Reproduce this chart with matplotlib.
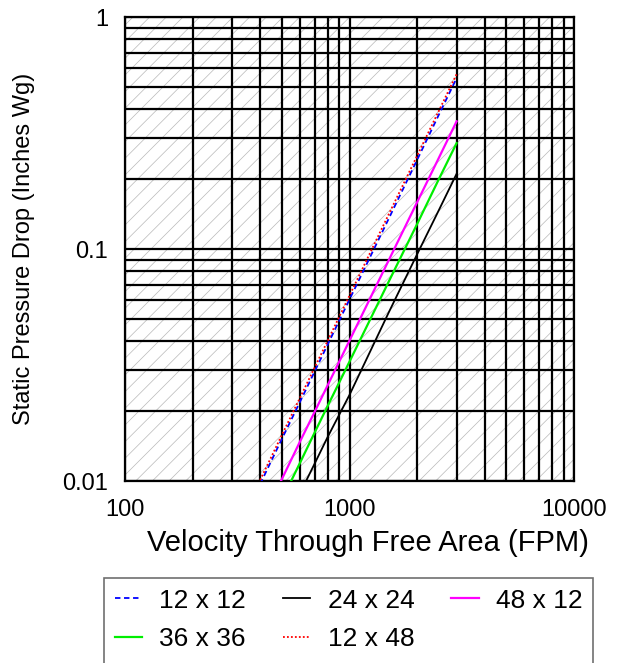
import matplotlib
matplotlib.use("Agg")
import matplotlib.pyplot as plt
from matplotlib.patches import Rectangle

plt.rcParams['font.family'] = ['Liberation Sans', 'DejaVu Sans']
plt.rcParams['hatch.linewidth'] = 0.5

# velocity (FPM) and static pressure drop (in. wg)
vel = [400, 500, 600, 700, 800, 1000, 1500, 2000, 2500, 3000]
p_12x12 = [0.0097, 0.0152, 0.0218, 0.0297, 0.0388, 0.0606, 0.136, 0.242, 0.379, 0.545]
p_12x48 = [0.0101, 0.0158, 0.0227, 0.0309, 0.0403, 0.063, 0.142, 0.252, 0.394, 0.567]
p_48x12 = [0.0066, 0.0102, 0.0147, 0.0199, 0.0259, 0.0403, 0.090, 0.159, 0.247, 0.355]
p_36x36 = [0.0054, 0.0083, 0.0119, 0.0162, 0.0211, 0.0327, 0.0728, 0.128, 0.200, 0.286]
p_24x24 = [0.0039, 0.0061, 0.0088, 0.0119, 0.0155, 0.0235, 0.0536, 0.0948, 0.147, 0.211]

fig = plt.figure(figsize=(6.29, 6.63), dpi=100)
ax = fig.add_axes([125 / 629, 1 - 481 / 663, 449 / 629, 464 / 663])

ax.add_patch(Rectangle((0, 0), 1, 1, transform=ax.transAxes, facecolor='white',
                       edgecolor='#b8b8b8', hatch='//', lw=0, zorder=0))

l1, = ax.plot(vel, p_12x12, color='blue', ls=(0, (3, 2)), lw=1.3, label='12 x 12', zorder=3)
l5, = ax.plot(vel, p_12x48, color='red', ls=(0, (1, 1.2)), lw=1.3, label='12 x 48', zorder=3)
l3, = ax.plot(vel, p_48x12, color='magenta', lw=1.6, label='48 x 12', zorder=3)
l4, = ax.plot(vel, p_36x36, color='#00ee00', lw=1.6, label='36 x 36', zorder=3)
l2, = ax.plot(vel, p_24x24, color='black', lw=1.3, label='24 x 24', zorder=3)

ax.set_xscale('log')
ax.set_yscale('log')
ax.set_xlim(100, 10000)
ax.set_ylim(0.01, 1)
ax.set_xticks([100, 1000, 10000])
ax.set_xticklabels(['100', '1000', '10000'])
ax.set_yticks([0.01, 0.1, 1])
ax.set_yticklabels(['0.01', '0.1', '1'])
ax.grid(True, which='both', color='black', lw=1.6, zorder=2)
ax.set_axisbelow(True)
ax.tick_params(which='both', length=0)
ax.tick_params(axis='x', labelsize=17, pad=13)
ax.tick_params(axis='y', labelsize=17, pad=12)
for s in ax.spines.values():
    s.set_linewidth(1.6)

xl = ax.set_xlabel('Velocity Through Free Area (FPM)', fontsize=21)
xl.set_va('center')
ax.xaxis.set_label_coords((368 - 125) / 449, (481 - 543) / 464)
yl = ax.set_ylabel('Static Pressure Drop (Inches Wg)', fontsize=17)
yl.set_va('center')
ax.yaxis.set_label_coords((24 - 125) / 449, 0.5)

# legend box runs off the bottom of the image
fig.patches.append(Rectangle((104 / 629, -0.05), 489 / 629, 1 - 578 / 663 + 0.05,
                             transform=fig.transFigure, facecolor='white',
                             edgecolor='#707070', lw=1.2))
leg = fig.legend(handles=[l1, l4, l2, l5, l3], ncol=3, loc='upper left',
                 bbox_to_anchor=(104 / 629, 0, 489 / 629, 1 - 578 / 663),
                 mode='expand', fontsize=19, frameon=False,
                 handlelength=1.05, handletextpad=0.65, columnspacing=1.0,
                 borderpad=0.4, labelspacing=0.55, borderaxespad=0)

fig.savefig('out.png', dpi=100)
